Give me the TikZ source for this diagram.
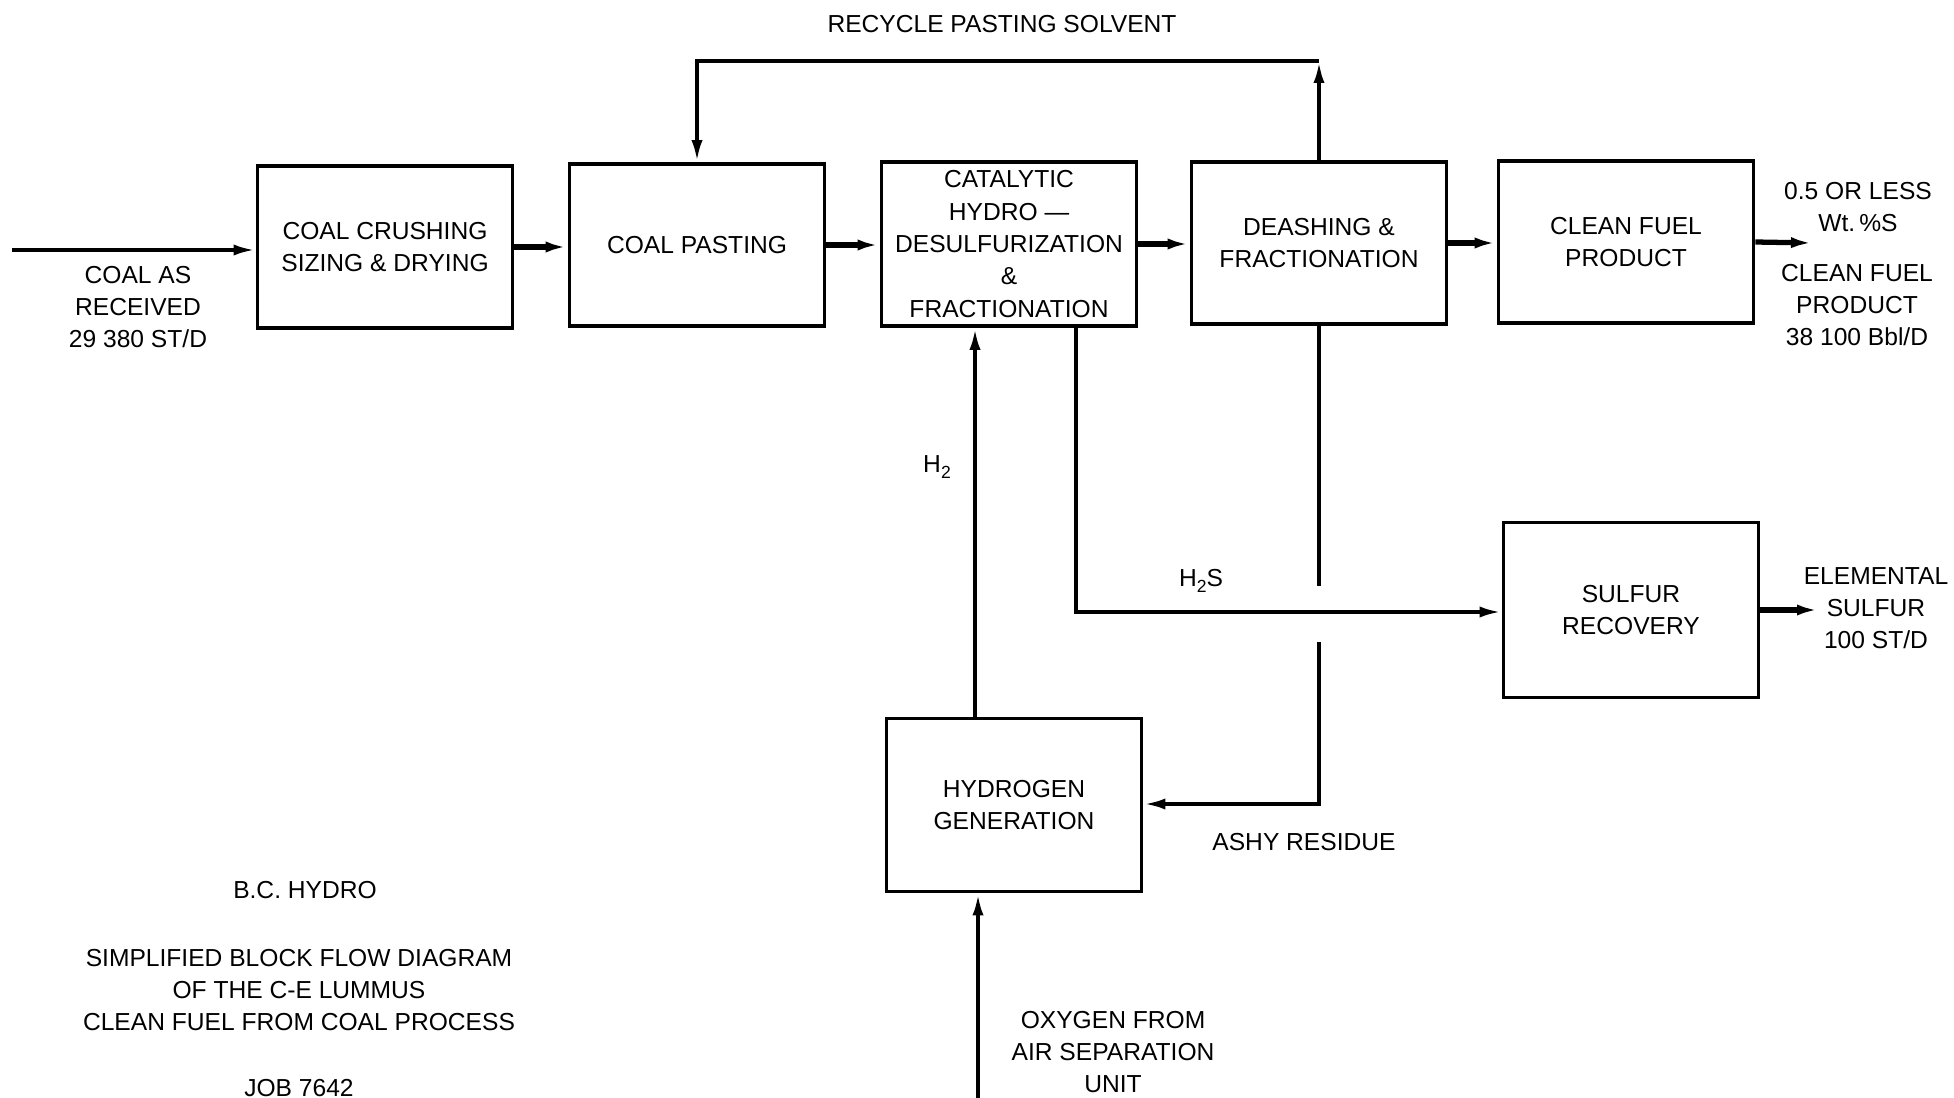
\documentclass[tikz,border=0pt]{standalone}
\usepackage{fontspec}
\setmainfont{Liberation Sans}
\usetikzlibrary{arrows.meta}
\newcommand{\lowsub}[1]{\raisebox{-0.45ex}{\fontsize{10}{10}\selectfont #1}}

\begin{document}
\begin{tikzpicture}[x=0.02cm,y=-0.02cm,
  font=\fontsize{14}{18.4}\selectfont,
  unit/.style={draw,line width=2.1pt,minimum width=5.1cm,minimum height=3.24cm,align=center,inner sep=0pt},
  lbl/.style={align=center,inner sep=0pt},
  pipe/.style={line width=2.2pt,-{Latex[length=0.44cm,width=0.22cm]}},
  flow/.style={pipe,line width=3pt}]
 \useasboundingbox (0,0) rectangle (1954,1098);

 % process units
 \node[unit] (crush) at (385,247) {COAL CRUSHING\\SIZING \& DRYING};
 \node[unit] (paste) at (697,245) {COAL PASTING};
 \node[unit,minimum height=3.28cm] (hds) at (1009,244) {CATALYTIC\\HYDRO —\\DESULFURIZATION\\\&\\FRACTIONATION};
 \node[unit] (deash) at (1319,243) {DEASHING \&\\FRACTIONATION};
 \node[unit] (clean) at (1626,242) {CLEAN FUEL\\PRODUCT};
 \node[unit,minimum height=3.5cm] (sulfur) at (1631,610) {SULFUR\\RECOVERY};
 \node[unit,minimum height=3.46cm] (hydro) at (1014,805) {HYDROGEN\\GENERATION};

 % free ends and bends
 \coordinate (coalin) at (12,250);
 \coordinate (solvtop) at (1000,61);
 \coordinate (fuelout) at (1813,243);
 \coordinate (h2) at (975,560);
 \coordinate (hss) at (1076,612);
 \coordinate (gaptop) at (1319,586);
 \coordinate (gapbot) at (1319,642);
 \coordinate (ash) at (1319,804);
 \coordinate (sout) at (1819,610);
 \coordinate (oxin) at (978,1098);

 % main line
 \draw[pipe] (coalin) -- (crush.west |- coalin);
 \draw[flow] (crush.east) -- (crush.east -| paste.west);
 \draw[flow] (paste.east) -- (paste.east -| hds.west);
 \draw[flow] (hds.east) -- (hds.east -| deash.west);
 \draw[flow] (deash.east) -- (deash.east -| clean.west);
 \draw[flow] (clean.east) -- (fuelout);

 % solvent recycle
 \draw[pipe] (deash.north) -- (deash.north |- solvtop);
 \draw[pipe] (deash.north |- solvtop) -- (paste.north |- solvtop) -- (paste.north);

 % hydrogen, H2S, ash
 \draw[pipe] (h2 |- hydro.north) -- (h2 |- hds.south);
 \draw[pipe] (hss |- hds.south) -- (hss) -- (sulfur.west |- hss);
 \draw[line width=2.2pt] (deash.south) -- (gaptop);
 \draw[pipe] (gapbot) -- (ash) -- (hydro.east |- ash);
 \draw[flow] (sulfur.east) -- (sout);
 \draw[pipe] (oxin) -- (oxin |- hydro.south);

 % stream labels
 \node[lbl] (coallbl) at (138,307) {COAL AS\\RECEIVED\\29 380 ST/D};
 \node[lbl] (solvlbl) at (1002,24) {RECYCLE PASTING SOLVENT};
 \node[lbl] (speclbl) at (1858,207) {0.5 OR LESS\\Wt.\,\%S};
 \node[lbl] (fuellbl) at (1857,305) {CLEAN FUEL\\PRODUCT\\38 100 Bbl/D};
 \node[lbl] (h2lbl) at (937,467) {H\lowsub{2}};
 \node[lbl] (h2slbl) at (1201,581) {H\lowsub{2}S};
 \node[lbl] (ashlbl) at (1304,842) {ASHY RESIDUE};
 \node[lbl] (slbl) at (1876,608) {ELEMENTAL\\SULFUR\\100 ST/D};
 \node[lbl] (oxlbl) at (1113,1052) {OXYGEN FROM\\AIR SEPARATION\\UNIT};

 % title block
 \node[lbl] (client) at (305,890) {B.C. HYDRO};
 \node[lbl] (title) at (299,990) {SIMPLIFIED BLOCK FLOW DIAGRAM\\OF THE C-E LUMMUS\\CLEAN FUEL FROM COAL PROCESS};
 \node[lbl] (jobno) at (299,1088) {JOB 7642};
\end{tikzpicture}
\end{document}
